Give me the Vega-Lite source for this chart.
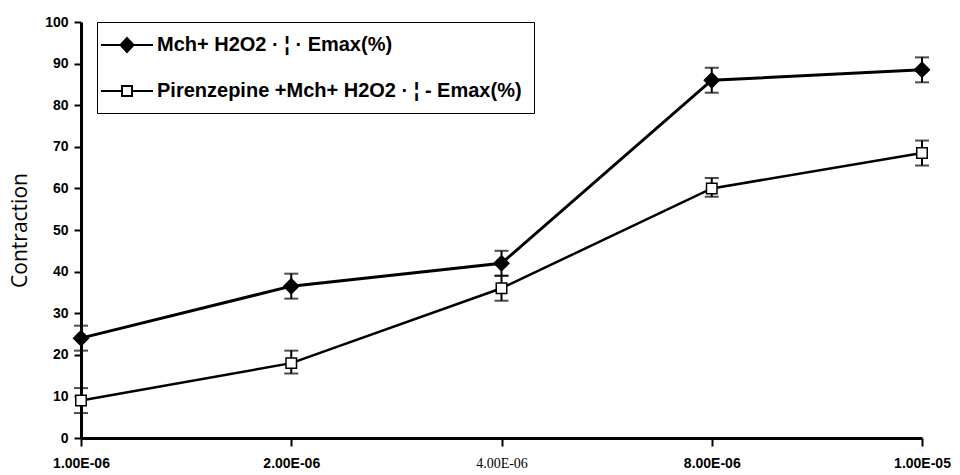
{
  "$schema": "https://vega.github.io/schema/vega-lite/v6.json",
  "width": 841,
  "height": 416,
  "autosize": "none",
  "padding": {"left": 81, "top": 22, "right": 38, "bottom": 37},
  "background": "white",
  "config": {"view": {"stroke": null}},
  "data": {
    "values": [
      {"conc": "1.00E-06", "series": "Mch+ H2O2 · ¦ · Emax(%)", "y": 24, "lo": 21, "hi": 27},
      {"conc": "2.00E-06", "series": "Mch+ H2O2 · ¦ · Emax(%)", "y": 36.5, "lo": 33.5, "hi": 39.5},
      {"conc": "4.00E-06", "series": "Mch+ H2O2 · ¦ · Emax(%)", "y": 42, "lo": 39, "hi": 45},
      {"conc": "8.00E-06", "series": "Mch+ H2O2 · ¦ · Emax(%)", "y": 86, "lo": 83, "hi": 89},
      {"conc": "1.00E-05", "series": "Mch+ H2O2 · ¦ · Emax(%)", "y": 88.5, "lo": 85.5, "hi": 91.5},
      {"conc": "1.00E-06", "series": "Pirenzepine +Mch+ H2O2 · ¦ - Emax(%)", "y": 9, "lo": 6, "hi": 12},
      {"conc": "2.00E-06", "series": "Pirenzepine +Mch+ H2O2 · ¦ - Emax(%)", "y": 18, "lo": 15.5, "hi": 21},
      {"conc": "4.00E-06", "series": "Pirenzepine +Mch+ H2O2 · ¦ - Emax(%)", "y": 36, "lo": 33, "hi": 39},
      {"conc": "8.00E-06", "series": "Pirenzepine +Mch+ H2O2 · ¦ - Emax(%)", "y": 60, "lo": 58, "hi": 62.5},
      {"conc": "1.00E-05", "series": "Pirenzepine +Mch+ H2O2 · ¦ - Emax(%)", "y": 68.5, "lo": 65.5, "hi": 71.5}
    ]
  },
  "encoding": {
    "x": {
      "field": "conc", "type": "ordinal", "sort": null,
      "scale": {"type": "point", "padding": 0},
      "axis": {
        "title": null, "labelAngle": 0, "domainColor": "black", "domainWidth": 3,
        "tickColor": "black", "tickWidth": 2, "tickSize": 8,
        "labelFontSize": 14, "labelColor": "black", "labelPadding": 10,
        "labelFont": {"condition": {"test": "datum.value == '4.00E-06'", "value": "Liberation Serif"}, "value": "Liberation Sans"},
        "labelFontWeight": {"condition": {"test": "datum.value == '4.00E-06'", "value": "normal"}, "value": "bold"}
      }
    },
    "y": {
      "field": "y", "type": "quantitative",
      "scale": {"domain": [0, 100], "nice": false},
      "axis": {
        "title": "Contraction", "titleFont": "Open Sans", "titleFontSize": 21, "titleFontWeight": "normal",
        "titleColor": "black", "titlePadding": 14,
        "values": [0, 10, 20, 30, 40, 50, 60, 70, 80, 90, 100], "grid": false,
        "domainColor": "black", "domainWidth": 3, "tickColor": "black", "tickWidth": 2, "tickSize": 7,
        "labelFont": "Liberation Sans", "labelFontWeight": "bold", "labelFontSize": 14, "labelColor": "black", "labelPadding": 6
      }
    }
  },
  "layer": [
    {
      "mark": {"type": "errorbar", "ticks": {"size": 14, "thickness": 2, "color": "black"}, "rule": {"strokeWidth": 2, "color": "black"}},
      "encoding": {
        "y": {"field": "lo", "type": "quantitative", "title": "Contraction"},
        "y2": {"field": "hi"},
        "detail": {"field": "series"}
      }
    },
    {
      "mark": {"type": "line", "color": "black"},
      "encoding": {
        "detail": {"field": "series"},
        "strokeWidth": {"field": "series", "type": "nominal", "scale": {"range": [3, 2.5]}, "legend": null}
      }
    },
    {
      "transform": [{"filter": "datum.series == 'Mch+ H2O2 · ¦ · Emax(%)'"}],
      "mark": {"type": "point", "shape": "diamond", "size": 220, "fill": "black", "stroke": "black", "strokeWidth": 1.5, "opacity": 1}
    },
    {
      "transform": [{"filter": "datum.series != 'Mch+ H2O2 · ¦ · Emax(%)'"}],
      "mark": {"type": "point", "shape": "square", "size": 110, "fill": "white", "stroke": "black", "strokeWidth": 1.5, "opacity": 1}
    },
    {
      "transform": [{"filter": "false"}],
      "mark": {"type": "point", "strokeWidth": 2, "opacity": 1},
      "encoding": {
        "shape": {
          "field": "series", "type": "nominal",
          "scale": {
            "domain": ["Mch+ H2O2 · ¦ · Emax(%)", "Pirenzepine +Mch+ H2O2 · ¦ - Emax(%)"],
            "range": ["M-1.9,0H0.05M1.35,0H3.3M0.7,-0.7L1.35,0L0.7,0.7L0.05,0Z", "M-1.9,0H0.2M1.2,0H3.3M0.2,-0.5H1.2V0.5H0.2Z"]
          },
          "legend": {
            "title": null, "orient": "none", "legendX": 16, "legendY": 0,
            "strokeColor": "black", "padding": 12, "rowPadding": 24,
            "labelFont": "Liberation Sans", "labelFontWeight": "bold", "labelFontSize": 20, "labelColor": "black",
            "labelLimit": 0, "labelOffset": 26,
            "symbolSize": 400, "symbolStrokeColor": "black", "symbolStrokeWidth": 2,
            "encode": {
              "legend": {"update": {"strokeWidth": {"value": 2}}},
              "labels": {"update": {"dx": {"signal": "datum.index == 1 ? 18 : 0"}}}
            }
          }
        },
        "fill": {
          "field": "series", "type": "nominal",
          "scale": {"domain": ["Mch+ H2O2 · ¦ · Emax(%)", "Pirenzepine +Mch+ H2O2 · ¦ - Emax(%)"], "range": ["black", "white"]}
        },
        "stroke": {
          "field": "series", "type": "nominal",
          "scale": {"domain": ["Mch+ H2O2 · ¦ · Emax(%)", "Pirenzepine +Mch+ H2O2 · ¦ - Emax(%)"], "range": ["black", "black"]}
        }
      }
    }
  ]
}
